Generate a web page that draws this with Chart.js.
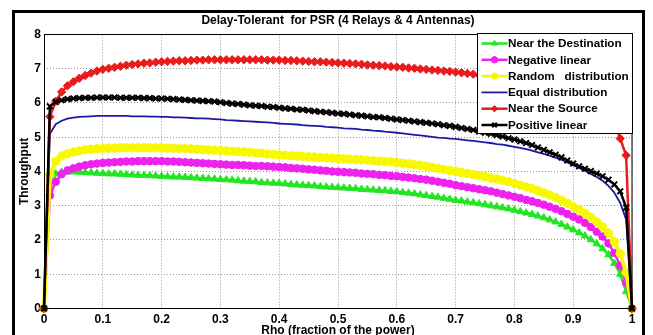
<!DOCTYPE html>
<html><head><meta charset="utf-8">
<script src="https://cdn.jsdelivr.net/npm/chart.js@4.4.1/dist/chart.umd.min.js"></script>
<style>html,body{margin:0;padding:0;background:#fff;overflow:hidden}canvas{display:block}</style>
</head><body>
<canvas id="c" width="653" height="335"></canvas>
<script>
const titleText = "Delay-Tolerant  for PSR (4 Relays & 4 Antennas)";
const xTitle = "Rho (fraction of the power)";
const yTitle = "Throughput";
const xTicks = [0,0.1,0.2,0.3,0.4,0.5,0.6,0.7,0.8,0.9,1];
const xTickLabels = ["0","0.1","0.2","0.3","0.4","0.5","0.6","0.7","0.8","0.9","1"];
const yTicks = [0,1,2,3,4,5,6,7,8];
const yTickLabels = ["0","1","2","3","4","5","6","7","8"];
const seriesNames = ["Near the Destination","Negative linear","Random   distribution","Equal distribution","Near the Source","Positive linear"];

const rho = [0,0.01,0.02,0.03,0.04,0.05,0.06,0.07,0.08,0.09,
0.10,0.11,0.12,0.13,0.14,0.15,0.16,0.17,0.18,0.19,
0.20,0.21,0.22,0.23,0.24,0.25,0.26,0.27,0.28,0.29,
0.30,0.31,0.32,0.33,0.34,0.35,0.36,0.37,0.38,0.39,
0.40,0.41,0.42,0.43,0.44,0.45,0.46,0.47,0.48,0.49,
0.50,0.51,0.52,0.53,0.54,0.55,0.56,0.57,0.58,0.59,
0.60,0.61,0.62,0.63,0.64,0.65,0.66,0.67,0.68,0.69,
0.70,0.71,0.72,0.73,0.74,0.75,0.76,0.77,0.78,0.79,
0.80,0.81,0.82,0.83,0.84,0.85,0.86,0.87,0.88,0.89,
0.90,0.91,0.92,0.93,0.94,0.95,0.96,0.97,0.98,0.99,1.00];

const nearDestination = [0,3.5,3.93,3.98,3.99,3.99,3.98,3.97,3.96,3.95,
3.94,3.93,3.93,3.92,3.91,3.90,3.89,3.89,3.88,3.87,
3.86,3.85,3.84,3.84,3.83,3.82,3.81,3.80,3.79,3.78,
3.77,3.76,3.75,3.73,3.72,3.71,3.70,3.68,3.67,3.66,
3.65,3.64,3.62,3.61,3.60,3.59,3.58,3.56,3.55,3.54,
3.53,3.52,3.51,3.50,3.48,3.47,3.46,3.45,3.44,3.42,
3.41,3.39,3.37,3.35,3.32,3.30,3.27,3.25,3.22,3.19,
3.16,3.14,3.11,3.09,3.06,3.03,3.00,2.97,2.94,2.91,
2.87,2.83,2.79,2.75,2.70,2.65,2.59,2.53,2.46,2.38,
2.30,2.21,2.12,2.01,1.89,1.75,1.57,1.32,1.00,0.50,0];

const negativeLinear = [0,3.3,3.7,3.92,4.03,4.09,4.14,4.18,4.21,4.23,
4.25,4.26,4.27,4.28,4.29,4.29,4.30,4.30,4.30,4.30,
4.30,4.29,4.29,4.28,4.27,4.26,4.25,4.24,4.23,4.22,
4.21,4.20,4.19,4.19,4.18,4.17,4.16,4.16,4.15,4.14,
4.13,4.12,4.10,4.09,4.08,4.06,4.05,4.03,4.02,4.00,
3.99,3.98,3.97,3.96,3.94,3.93,3.92,3.90,3.89,3.87,
3.86,3.84,3.82,3.80,3.78,3.76,3.73,3.70,3.67,3.64,
3.60,3.57,3.54,3.51,3.48,3.45,3.42,3.38,3.34,3.30,
3.26,3.22,3.17,3.13,3.08,3.03,2.97,2.91,2.84,2.76,
2.68,2.60,2.50,2.38,2.24,2.10,1.90,1.62,1.25,0.75,0];

const randomDistribution = [0,3.9,4.3,4.45,4.52,4.57,4.60,4.63,4.65,4.66,
4.67,4.68,4.68,4.69,4.69,4.69,4.69,4.69,4.69,4.69,
4.69,4.68,4.68,4.67,4.67,4.66,4.65,4.64,4.63,4.62,
4.61,4.60,4.59,4.58,4.57,4.56,4.54,4.53,4.51,4.50,
4.48,4.47,4.46,4.45,4.44,4.43,4.42,4.41,4.40,4.39,
4.38,4.37,4.36,4.35,4.34,4.33,4.31,4.30,4.29,4.28,
4.26,4.24,4.22,4.20,4.18,4.15,4.12,4.09,4.06,4.03,
4.00,3.97,3.94,3.91,3.88,3.85,3.81,3.78,3.74,3.70,
3.65,3.60,3.55,3.50,3.44,3.38,3.31,3.24,3.16,3.07,
2.97,2.88,2.78,2.66,2.53,2.38,2.20,1.95,1.60,1.05,0];

const equalDistribution = [0,5.1,5.38,5.48,5.54,5.57,5.59,5.60,5.61,5.62,
5.62,5.62,5.62,5.62,5.62,5.61,5.61,5.61,5.60,5.60,
5.59,5.59,5.58,5.58,5.57,5.56,5.55,5.55,5.54,5.53,
5.52,5.50,5.49,5.48,5.47,5.46,5.45,5.44,5.43,5.42,
5.40,5.39,5.38,5.37,5.35,5.34,5.33,5.32,5.30,5.29,
5.28,5.26,5.25,5.24,5.22,5.21,5.19,5.18,5.16,5.15,
5.13,5.11,5.09,5.07,5.05,5.03,5.01,4.99,4.98,4.96,
4.95,4.93,4.91,4.89,4.87,4.85,4.83,4.80,4.78,4.75,
4.72,4.69,4.65,4.61,4.56,4.51,4.46,4.40,4.34,4.26,
4.18,4.10,4.02,3.93,3.84,3.73,3.58,3.38,3.08,2.60,0];

const nearSource = [0,5.6,6.05,6.32,6.50,6.62,6.72,6.80,6.87,6.93,
6.98,7.01,7.04,7.07,7.10,7.12,7.14,7.16,7.17,7.19,
7.20,7.21,7.22,7.23,7.23,7.24,7.25,7.25,7.26,7.26,
7.26,7.26,7.26,7.26,7.26,7.26,7.26,7.26,7.25,7.25,
7.25,7.24,7.24,7.23,7.22,7.21,7.20,7.20,7.19,7.18,
7.17,7.16,7.15,7.14,7.13,7.11,7.10,7.09,7.08,7.06,
7.05,7.04,7.02,7.01,6.99,6.98,6.96,6.95,6.93,6.92,
6.90,6.88,6.86,6.84,6.81,6.79,6.76,6.74,6.71,6.69,
6.66,6.63,6.60,6.57,6.53,6.50,6.46,6.42,6.38,6.33,
6.28,6.22,6.16,6.10,6.00,5.90,5.72,5.45,4.96,4.47,0];

const positiveLinear = [0,5.9,6.03,6.08,6.11,6.13,6.14,6.15,6.15,6.16,
6.16,6.16,6.16,6.15,6.15,6.15,6.15,6.14,6.14,6.13,
6.13,6.12,6.11,6.10,6.09,6.08,6.07,6.06,6.05,6.04,
6.02,6.00,5.98,5.97,5.95,5.93,5.92,5.91,5.89,5.88,
5.86,5.84,5.83,5.81,5.80,5.78,5.76,5.74,5.73,5.71,
5.69,5.68,5.66,5.64,5.63,5.61,5.59,5.58,5.56,5.54,
5.52,5.50,5.48,5.46,5.44,5.42,5.40,5.38,5.35,5.33,
5.30,5.27,5.24,5.21,5.17,5.13,5.10,5.06,5.02,4.97,
4.93,4.88,4.83,4.77,4.70,4.63,4.56,4.49,4.41,4.32,
4.23,4.15,4.08,4.01,3.94,3.86,3.76,3.62,3.42,2.95,0];

const seriesValues = [nearDestination, negativeLinear, randomDistribution, equalDistribution, nearSource, positiveLinear];
const styles = [
  {color:'#22e622', point:'triangle', r:4.2, w:2.5, pw:1},
  {color:'#ee22ee', point:'circle', r:3.8, w:2.5, pw:1},
  {color:'#f8f800', point:'circle', r:4.2, w:4, pw:1},
  {color:'#1a1aa6', point:false, r:0, w:1.8, pw:1},
  {color:'#e81c1c', point:'rectRot', r:4.2, w:2.5, pw:1},
  {color:'#000000', point:'crossRot', r:4, w:2.5, pw:2}
];

const FONT = "'Liberation Sans', Arial, sans-serif";

const datasets = seriesNames.map((name, i) => ({
  label: name,
  data: rho.map((x, k) => ({x: x, y: seriesValues[i][k]})),
  borderColor: styles[i].color,
  backgroundColor: styles[i].color,
  borderWidth: styles[i].w,
  pointStyle: styles[i].point || 'circle',
  pointRadius: styles[i].r,
  pointBorderWidth: styles[i].pw,
  pointBackgroundColor: styles[i].color,
  pointBorderColor: styles[i].color,
  tension: 0,
  clip: false,
  order: seriesNames.length - i
}));

const boxPlugin = {
  id: 'boxAndLegend',
  afterDatasetsDraw(chart) {
    const {ctx, chartArea: a} = chart;
    ctx.save();
    ctx.strokeStyle = '#000';
    ctx.lineWidth = 1;
    ctx.strokeRect(Math.round(a.left) + 0.5, Math.round(a.top) + 0.5, Math.round(a.right - a.left) - 0.5, Math.round(a.bottom - a.top));
    ctx.restore();
  },
  afterDraw(chart) {
    const {ctx, chartArea: a} = chart;
    ctx.save();
    const lw = 155, lh = 100;
    const lx = Math.round(a.right) - lw + 0.5, ly = Math.round(a.top) - 0.5;
    ctx.fillStyle = '#fff';
    ctx.fillRect(lx, ly, lw, lh);
    ctx.strokeStyle = '#000';
    ctx.lineWidth = 1;
    ctx.strokeRect(lx, ly, lw, lh);
    ctx.font = "bold 11.7px " + FONT;
    ctx.textBaseline = 'middle';
    ctx.textAlign = 'left';
    chart.data.datasets.forEach((ds, i) => {
      const y = ly + 10 + i * 16.3;
      ctx.strokeStyle = ds.borderColor;
      ctx.lineWidth = Math.min(ds.borderWidth, 2.5);
      ctx.beginPath();
      ctx.moveTo(lx + 4, y);
      ctx.lineTo(lx + 30, y);
      ctx.stroke();
      if (ds.pointRadius > 0) {
        ctx.fillStyle = ds.pointBackgroundColor;
        ctx.strokeStyle = ds.pointBorderColor;
        ctx.lineWidth = ds.pointBorderWidth;
        Chart.helpers.drawPoint(ctx, {pointStyle: ds.pointStyle, radius: 3.2, rotation: 0, borderWidth: ds.pointBorderWidth}, lx + 17, y);
      }
      ctx.fillStyle = '#000';
      ctx.fillText(ds.label, lx + 30.5, y + 0.5);
    });
    ctx.strokeStyle = '#000';
    ctx.lineWidth = 3;
    ctx.strokeRect(13.5, 11.5, 630, 400);
    ctx.restore();
  }
};

new Chart(document.getElementById('c'), {
  type: 'line',
  data: { datasets },
  options: {
    responsive: false,
    animation: false,
    devicePixelRatio: 1,
    layout: { padding: { left: 0, right: 21, top: 0, bottom: 0 } },
    plugins: {
      legend: { display: false },
      tooltip: { enabled: false },
      title: {
        display: true, text: titleText, color: '#000', fullSize: false,
        font: { family: FONT, size: 12, weight: 'bold' },
        padding: { top: 13, bottom: 7 }
      }
    },
    scales: {
      x: {
        type: 'linear', min: 0, max: 1,
        afterBuildTicks: s => { s.ticks = xTicks.map(v => ({value: v})); },
        afterFit: s => { s.height = 26.5; },
        ticks: { color: '#000', padding: 4, maxRotation: 0, autoSkip: false,
                 callback: (v, i) => xTickLabels[i],
                 font: { family: FONT, size: 12, weight: 'bold' } },
        grid: { color: '#999999', lineWidth: 1, drawTicks: false },
        border: { display: false, dash: [1, 2] },
        title: { display: true, text: xTitle, color: '#000',
                 font: { family: FONT, size: 12, weight: 'bold', lineHeight: 0.5 },
                 padding: { top: 0, bottom: 1 } }
      },
      y: {
        type: 'linear', min: 0, max: 8,
        afterBuildTicks: s => { s.ticks = yTicks.map(v => ({value: v})); },
        afterFit: s => { s.width = 44; },
        ticks: { color: '#000', padding: 3,
                 callback: (v, i) => yTickLabels[i],
                 font: { family: FONT, size: 12, weight: 'bold' } },
        grid: { color: '#999999', lineWidth: 1, drawTicks: false },
        border: { display: false, dash: [1, 2] },
        title: { display: true, text: yTitle, color: '#000',
                 font: { family: FONT, size: 12, weight: 'bold' },
                 padding: { top: 17.8, bottom: 0 } }
      }
    }
  },
  plugins: [boxPlugin]
});
</script>
</body></html>
